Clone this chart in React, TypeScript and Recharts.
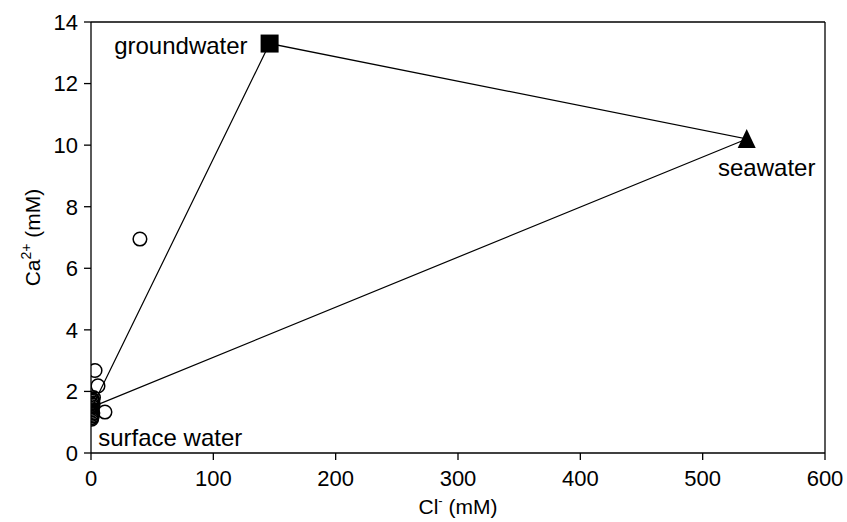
import React from 'react';
import { ScatterChart, Scatter, XAxis, YAxis, ReferenceLine } from 'recharts';

// ---- data ----
const endmemberNames = ['surface water', 'groundwater', 'seawater'];
const endmemberCl = [1, 146, 536];
const endmemberCa = [1.5, 13.3, 10.2];

const sampleCl = [40, 3.3, 5.7, 11.4, 0.5, 1.0, 1.5, 0.6, 1.2, 0.4, 1.3, 0.9, 2.0, 1.6, 0.8, 1.1, 0.3, 1.7, 0.7, 1.4];
const sampleCa = [6.95, 2.68, 2.18, 1.33, 1.1, 1.2, 1.3, 1.4, 1.5, 1.6, 1.68, 1.75, 1.8, 1.55, 1.25, 1.35, 1.45, 1.62, 1.15, 1.72];

const xTicks = [0, 100, 200, 300, 400, 500, 600];
const yTicks = [0, 2, 4, 6, 8, 10, 12, 14];

// ---- derived tables ----
const endmembers = endmemberNames.map((name, i) => ({ name, x: endmemberCl[i], y: endmemberCa[i] }));
const mixingTriangle = [...endmembers, endmembers[0]];
const samples = sampleCl.map((x, i) => ({ x, y: sampleCa[i] }));

const FONT = '"Liberation Sans", Arial, Helvetica, sans-serif';

const EmptyShape = () => <g />;

const CircleShape = (props: any) => {
  const { cx, cy } = props;
  if (cx == null || cy == null) return <g />;
  return <circle cx={cx} cy={cy} r={6.8} fill="none" stroke="#000" strokeWidth={1.5} />;
};

const EndmemberShape = (props: any) => {
  const { cx, cy, payload } = props;
  if (cx == null || cy == null) return <g />;
  const name = payload?.name;
  const textStyle = { fontFamily: FONT, fontSize: 24, fill: '#000' } as any;
  if (name === 'groundwater') {
    return (
      <g>
        <rect x={cx - 9} y={cy - 9} width={18} height={18} fill="#000" />
        <text x={cx - 22} y={cy + 10} textAnchor="end" style={textStyle}>{name}</text>
      </g>
    );
  }
  if (name === 'seawater') {
    return (
      <g>
        <polygon points={`${cx},${cy - 10} ${cx + 9},${cy + 9} ${cx - 9},${cy + 9}`} fill="#000" />
        <text x={cx + 20} y={cy + 37} textAnchor="middle" style={textStyle}>{name}</text>
      </g>
    );
  }
  return (
    <g>
      <text x={cx + 6} y={cy + 39} textAnchor="start" style={textStyle}>{name}</text>
    </g>
  );
};

const tickStyle = { fontFamily: FONT, fontSize: 22, fill: '#000' };

export default function App() {
  return (
    <div style={{ position: 'absolute', left: 0, top: 0, width: 847, height: 522, background: '#fff' }}>
      <ScatterChart width={847} height={522} margin={{ top: 22, right: 22, left: 0, bottom: 0 }}>
        <XAxis
          type="number"
          dataKey="x"
          domain={[0, 600]}
          ticks={xTicks}
          allowDataOverflow
          height={69}
          tickSize={7}
          tickMargin={10}
          tick={tickStyle}
          axisLine={{ stroke: '#000', strokeWidth: 1.3 }}
          tickLine={{ stroke: '#000', strokeWidth: 1.3 }}
          label={(p: any) => {
            const vb = p.viewBox || {};
            const cx = (vb.x ?? 91) + (vb.width ?? 734) / 2;
            return (
              <text x={cx} y={514} textAnchor="middle" style={{ fontFamily: FONT, fontSize: 21, fill: '#000' }}>
                Cl<tspan dy={-9} fontSize={13}>-</tspan>
                <tspan dy={9}> (mM)</tspan>
              </text>
            );
          }}
        />
        <YAxis
          type="number"
          dataKey="y"
          domain={[0, 14]}
          ticks={yTicks}
          allowDataOverflow
          width={91}
          tickSize={7}
          tickMargin={6}
          tick={tickStyle}
          axisLine={{ stroke: '#000', strokeWidth: 1.3 }}
          tickLine={{ stroke: '#000', strokeWidth: 1.3 }}
          label={(p: any) => {
            const vb = p.viewBox || {};
            const cy = (vb.y ?? 22) + (vb.height ?? 431) / 2;
            return (
              <text x={40} y={cy} transform={`rotate(-90, 40, ${cy})`} textAnchor="middle" style={{ fontFamily: FONT, fontSize: 21, fill: '#000' }}>
                Ca<tspan dy={-9} fontSize={14}>2+</tspan>
                <tspan dy={9}> (mM)</tspan>
              </text>
            );
          }}
        />
        <ReferenceLine y={14} stroke="#000" strokeWidth={1.3} ifOverflow="visible" />
        <ReferenceLine x={600} stroke="#000" strokeWidth={1.3} ifOverflow="visible" />
        <Scatter
          data={mixingTriangle}
          line={{ stroke: '#000', strokeWidth: 1.2 }}
          lineType="joint"
          shape={EmptyShape}
          isAnimationActive={false}
        />
        <Scatter data={samples} shape={CircleShape} isAnimationActive={false} />
        <Scatter data={endmembers} shape={EndmemberShape} isAnimationActive={false} />
      </ScatterChart>
    </div>
  );
}
